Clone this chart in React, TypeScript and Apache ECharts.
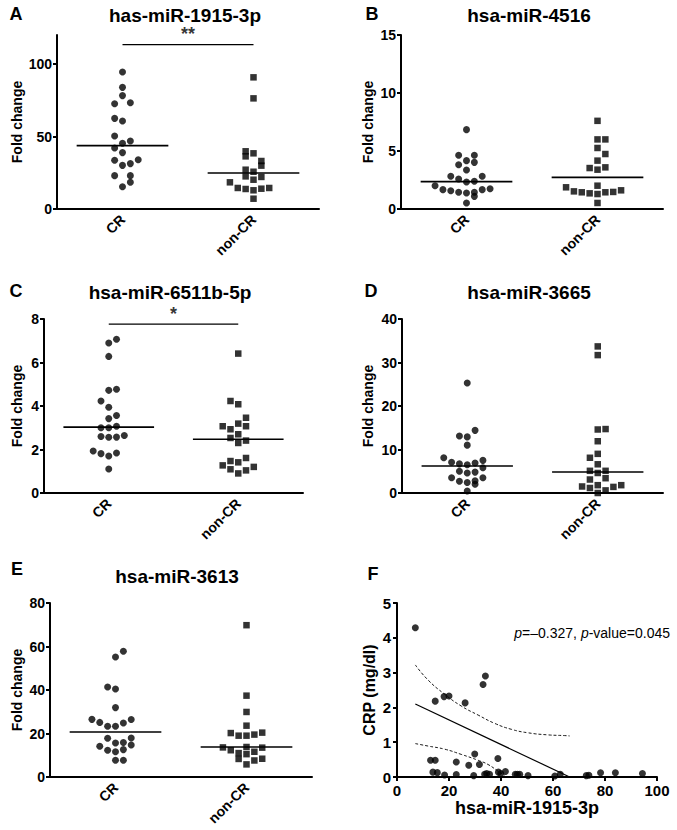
import React, { useEffect, useRef } from "react";
import * as echarts from "echarts";

const FONT = "'Liberation Sans', Arial, Helvetica, sans-serif";
const GROUPS = ["CR", "non-CR"];
const TITLES = ["has-miR-1915-3p", "hsa-miR-4516", "hsa-miR-6511b-5p", "hsa-miR-3665", "hsa-miR-3613"];
const LETTERS = ["A", "B", "C", "D", "E", "F"];

// A: has-miR-1915-3p
const aCR = [94.5, 83.9, 78.2, 72.6, 73.3, 62.5, 60.7, 50.3, 46.9, 45.3, 42.1, 38.9, 33.6, 34.0, 31.3, 30.1, 23.0, 23.0, 18.4, 15.4];
const aCRSlot = [0, 0, 0, -1, 1, -1, 0, -1, 1, 0, -1, 0, -1, 2, 1, 0, -1, 1, 1, 0];
const aNon = [90.8, 76.3, 39.8, 38.4, 36.3, 33.1, 29.9, 27.1, 25.7, 22.5, 22.1, 20.2, 18.4, 14.5, 13.8, 12.9, 14.0, 14.5, 7.1];
const aNonSlot = [0, 0, -1, 0, -1, 1, 1, -1, 0, -1, 1, 0, -3, -2, -1, 0, 1, 2, 0];
const aMeans = [43.7, 24.8];
const aSig = 113.3;
const aTicks = [0, 50, 100];

// B: hsa-miR-4516
const bCR = [6.84, 4.63, 4.63, 4.17, 3.82, 4.02, 3.36, 2.82, 2.59, 2.33, 2.39, 2.82, 2.01, 1.67, 1.58, 1.44, 1.38, 1.44, 1.67, 1.75, 1.09, 0.52];
const bCRSlot = [0, -1, 1, 0, -1, 1, 0, -2, -1, 0, 1, 2, -4, -3, -2, -1, 0, 1, 2, 3, 1, 0];
const bNon = [7.6, 6.0, 6.0, 5.26, 4.74, 4.17, 3.53, 3.39, 3.59, 2.01, 1.87, 1.52, 1.44, 1.35, 1.29, 1.44, 1.47, 1.61, 0.52];
const bNonSlot = [0, 0, 1, 0, 1, 0, -1, 0, 1, 0, -4, -3, -2, -1, 0, 1, 2, 3, 0];
const bMeans = [2.36, 2.73];

// C: hsa-miR-6511b-5p
const cCR = [7.07, 6.9, 6.28, 4.77, 4.72, 4.23, 3.94, 3.56, 3.42, 3.0, 3.0, 3.07, 2.6, 2.56, 2.57, 2.64, 1.93, 1.81, 1.7, 1.84, 1.1];
const cCRSlot = [1, 0, 0, 1, 0, -1, 0, 1, 0, -1, 0, 1, -1, 0, 1, 2, -2, -1, 0, 1, 0];
const cNon = [6.41, 4.23, 4.08, 3.46, 3.07, 2.93, 3.19, 3.07, 2.53, 2.7, 2.3, 2.41, 1.61, 1.47, 1.41, 1.27, 1.09, 0.9, 1.04, 1.2];
const cNonSlot = [0, -1, 0, 1, -2, -1, 0, 1, -1, 0, 0, 1, 1, -1, 0, -2, -1, 0, 1, 2];
const cMeans = [3.03, 2.47];
const cSig = 7.76;

// D: hsa-miR-3665
const dCR = [25.3, 14.4, 13.1, 12.9, 11.0, 8.1, 7.05, 6.7, 6.5, 6.9, 7.5, 5.8, 5.0, 4.6, 4.8, 3.5, 2.7, 2.4, 2.8, 2.0, 3.5, 0.46];
const dCRSlot = [0, 1, -1, 0, 0, -3, -2, -1, 0, 1, 2, 2, -1, 0, 1, -2, -1, 0, 1, 1, 2, 0];
const dNon = [33.7, 31.7, 14.6, 14.7, 11.9, 8.1, 9.0, 6.6, 5.1, 4.6, 5.1, 3.1, 3.4, 1.5, 1.15, 1.8, 0.6, 1.4, 1.8, 0];
const dNonSlot = [0, 0, 0, 1, 0, -1, 0, 0, -1, 0, 1, -1, 1, -2, -1, 0, 1, 2, 3, 0];
const dMeans = [6.2, 4.83];

// E: hsa-miR-3613
const eCR = [57.8, 55.2, 41.4, 40.5, 31.9, 26.5, 25.1, 23.3, 23.3, 24.8, 26.4, 17.8, 15.6, 15.9, 17.9, 14.1, 12.3, 11.6, 12.6, 14.7, 7.7, 7.7];
const eCRSlot = [1, 0, -1, 0, 0, -3, -2, -1, 0, 1, 2, -1, 0, 1, 2, -2, -1, 0, 1, 2, 0, 1];
const eNon = [69.8, 37.4, 29.9, 23.6, 20.2, 19.0, 19.0, 19.5, 20.4, 13.6, 12.3, 11.0, 13.8, 11.6, 13.5, 8.3, 10.5, 7.6, 8.4, 5.8];
const eNonSlot = [0, 0, 0, 0, -2, -1, 0, 1, 2, -3, -2, -1, 0, 1, 2, -1, 0, 1, 2, 0];
const eMeans = [20.7, 13.8];

// F: correlation
const fX = [7.05, 14.7, 18.1, 20.0, 26.2, 33.1, 34.0, 12.9, 14.7, 13.8, 15.5, 18.3, 22.8, 22.8, 27.6, 29.9, 29.5, 31.7, 33.7, 34.5, 35.6, 38.8, 39.0, 39.9, 41.7, 45.5, 46.3, 47.2, 50.4, 60.7, 62.8, 72.8, 73.8, 78.3, 84.0, 94.4];
const fY = [4.29, 2.18, 2.31, 2.33, 2.13, 2.66, 2.9, 0.48, 0.48, 0.14, 0.125, 0.06, 0.43, 0.07, 0.34, 0.66, 0.04, 0.36, 0.08, 0.1, 0.08, 0.53, 0.14, 0.1, 0.16, 0.08, 0.08, 0.08, 0.04, 0.03, 0.08, 0.04, 0.05, 0.12, 0.12, 0.1];
const fFitX = [7.05, 66.4];
const fFitY = [2.1, 0];
const fUpperX = [7.05, 11.9, 18.3, 24.7, 31.2, 37.6, 44.0, 50.4, 58.1, 64.5, 66.4];
const fUpperY = [3.22, 2.79, 2.38, 2.04, 1.78, 1.54, 1.37, 1.27, 1.21, 1.19, 1.18];
const fLowerX = [7.05, 11.9, 18.3, 24.7, 31.2, 35.0, 38.8, 41.4];
const fLowerY = [0.96, 0.89, 0.8, 0.65, 0.48, 0.36, 0.17, 0.03];

const JITTER = 0.06;
const HALF = 0.35;

type Col = {
  cr: number[]; crSlot: number[]; non: number[]; nonSlot: number[]; means: number[];
  yMax: number; yInterval: number; yTicks?: number[]; sig?: number; sigText?: string; nameGap: number;
};

const cols: Col[] = [
  { cr: aCR, crSlot: aCRSlot, non: aNon, nonSlot: aNonSlot, means: aMeans, yMax: 120, yInterval: 50, yTicks: aTicks, sig: aSig, sigText: "**", nameGap: 33 },
  { cr: bCR, crSlot: bCRSlot, non: bNon, nonSlot: bNonSlot, means: bMeans, yMax: 15, yInterval: 5, nameGap: 26 },
  { cr: cCR, crSlot: cCRSlot, non: cNon, nonSlot: cNonSlot, means: cMeans, yMax: 8, yInterval: 2, sig: cSig, sigText: "*", nameGap: 20 },
  { cr: dCR, crSlot: dCRSlot, non: dNon, nonSlot: dNonSlot, means: dMeans, yMax: 40, yInterval: 10, nameGap: 27 },
  { cr: eCR, crSlot: eCRSlot, non: eNon, nonSlot: eNonSlot, means: eMeans, yMax: 80, yInterval: 20, nameGap: 26 },
];

const grids = [
  { left: 57, top: 35, width: 262, height: 174 },
  { left: 401, top: 35, width: 262, height: 174 },
  { left: 44, top: 319, width: 259, height: 174 },
  { left: 402, top: 319, width: 261, height: 174 },
  { left: 50, top: 603, width: 262, height: 174 },
  { left: 397, top: 603, width: 260, height: 174 },
];

function buildOption() {
  const black = "#000";
  const axisLine = { show: true, lineStyle: { color: black, width: 2 } };
  const xAxes: any[] = [];
  const yAxes: any[] = [];
  const series: any[] = [];

  cols.forEach((c, i) => {
    xAxes.push({
      gridIndex: i, type: "category", data: GROUPS, boundaryGap: true,
      axisLine, axisTick: { alignWithLabel: true, length: 5, lineStyle: { color: black, width: 2 } },
      axisLabel: { rotate: 45, margin: 8, color: black, fontWeight: "bold", fontSize: 14, fontFamily: FONT },
      splitLine: { show: false },
    });
    const xv = xAxes.length;
    xAxes.push({ gridIndex: i, type: "value", min: 0, max: 2, show: false });
    const y: any = {
      gridIndex: i, type: "value", min: 0, max: c.yMax, interval: c.yInterval,
      axisLine, axisTick: { show: true, length: 4, lineStyle: { color: black, width: 2 } },
      axisLabel: { margin: 5, color: black, fontWeight: "bold", fontSize: 14, fontFamily: FONT },
      splitLine: { show: false },
      name: "Fold change", nameLocation: "middle", nameRotate: 90, nameGap: c.nameGap,
      nameTextStyle: { color: black, fontWeight: "bold", fontSize: 14, fontFamily: FONT },
    };
    if (c.yTicks) {
      y.axisTick.customValues = c.yTicks;
      y.axisLabel.customValues = c.yTicks;
    }
    yAxes.push(y);
    const base = { xAxisIndex: xv, yAxisIndex: i, silent: true };
    series.push({
      ...base, type: "scatter", symbol: "circle", symbolSize: 7, itemStyle: { color: black },
      data: c.cr.map((v, k) => [0.5 + c.crSlot[k] * JITTER, v]),
    });
    series.push({
      ...base, type: "scatter", symbol: "rect", symbolSize: 6.5, itemStyle: { color: black },
      data: c.non.map((v, k) => [1.5 + c.nonSlot[k] * JITTER, v]),
    });
    c.means.forEach((m, g) => {
      series.push({
        ...base, type: "line", symbol: "none", lineStyle: { color: black, width: 1.6 },
        data: [[0.5 + g - HALF, m], [0.5 + g + HALF, m]], z: 3,
      });
    });
    if (c.sig !== undefined) {
      series.push({
        ...base, type: "line", symbol: "none", lineStyle: { color: black, width: 1.3 },
        data: [[0.5, c.sig], [1.5, c.sig]],
      });
      series.push({
        ...base, type: "scatter", symbolSize: 1, itemStyle: { color: "rgba(0,0,0,0)" },
        label: { show: true, position: "top", distance: 1, formatter: c.sigText, color: black, fontSize: 18, fontWeight: "bold", fontFamily: FONT },
        data: [[1, c.sig]],
      });
    }
  });

  // Panel F
  const fi = 5;
  xAxes.push({
    gridIndex: fi, type: "value", min: 0, max: 100, interval: 20,
    axisLine, axisTick: { show: true, length: 4, lineStyle: { color: black, width: 2 } },
    axisLabel: { margin: 6, color: black, fontWeight: "bold", fontSize: 15, fontFamily: FONT },
    splitLine: { show: false },
    name: "hsa-miR-1915-3p", nameLocation: "middle", nameGap: 19,
    nameTextStyle: { color: black, fontWeight: "bold", fontSize: 18, fontFamily: FONT },
  });
  const fxIdx = xAxes.length - 1;
  yAxes.push({
    gridIndex: fi, type: "value", min: 0, max: 5, interval: 1,
    axisLine, axisTick: { show: true, length: 4, lineStyle: { color: black, width: 2 } },
    axisLabel: { margin: 6, color: black, fontWeight: "bold", fontSize: 15, fontFamily: FONT },
    splitLine: { show: false },
    name: "CRP (mg/dl)", nameLocation: "middle", nameRotate: 90, nameGap: 20,
    nameTextStyle: { color: black, fontWeight: "bold", fontSize: 16, fontFamily: FONT },
  });
  const fyIdx = yAxes.length - 1;
  const fb = { xAxisIndex: fxIdx, yAxisIndex: fyIdx, silent: true };
  series.push({ ...fb, type: "scatter", symbol: "circle", symbolSize: 7, itemStyle: { color: black }, data: fX.map((x, k) => [x, fY[k]]) });
  series.push({ ...fb, type: "line", symbol: "none", lineStyle: { color: black, width: 1.2 }, data: fFitX.map((x, k) => [x, fFitY[k]]) });
  series.push({ ...fb, type: "line", symbol: "none", smooth: true, lineStyle: { color: black, width: 0.9, type: [3, 2] }, data: fUpperX.map((x, k) => [x, fUpperY[k]]) });
  series.push({ ...fb, type: "line", symbol: "none", smooth: true, lineStyle: { color: black, width: 0.9, type: [3, 2] }, data: fLowerX.map((x, k) => [x, fLowerY[k]]) });

  const titlePos = [[185, 15], [529, 15], [170, 292], [529, 292], [177, 576]];
  const letterPos = [[16, 14], [372, 14], [16, 291], [371, 291], [17, 569], [373, 574]];
  const graphic: any[] = [];
  TITLES.forEach((t, i) => {
    graphic.push({
      type: "text", x: titlePos[i][0], y: titlePos[i][1],
      style: { text: t, fill: black, font: `bold 19px ${FONT}`, textAlign: "center", textVerticalAlign: "middle" },
    });
  });
  LETTERS.forEach((t, i) => {
    graphic.push({
      type: "text", x: letterPos[i][0], y: letterPos[i][1],
      style: { text: t, fill: black, font: `bold 18px ${FONT}`, textAlign: "center", textVerticalAlign: "middle" },
    });
  });
  graphic.push({
    type: "text", x: 670, y: 633,
    style: {
      text: "{i|p}=–0.327, {i|p}-value=0.045", fill: black, font: `14px ${FONT}`,
      textAlign: "right", textVerticalAlign: "middle",
      rich: { i: { fontStyle: "italic", fontSize: 14, fontFamily: FONT, fill: black } },
    },
  });

  return {
    animation: false,
    backgroundColor: "#fff",
    textStyle: { fontFamily: FONT },
    grid: grids,
    xAxis: xAxes,
    yAxis: yAxes,
    series,
    graphic,
  };
}

export default function App() {
  const ref = useRef<HTMLDivElement>(null);
  useEffect(() => {
    if (!ref.current) return;
    const chart = echarts.init(ref.current, undefined, { renderer: "svg" });
    chart.setOption(buildOption() as any);
    return () => chart.dispose();
  }, []);
  return <div ref={ref} style={{ position: "fixed", left: 0, top: 0, width: 677, height: 830, background: "#fff" }} />;
}
